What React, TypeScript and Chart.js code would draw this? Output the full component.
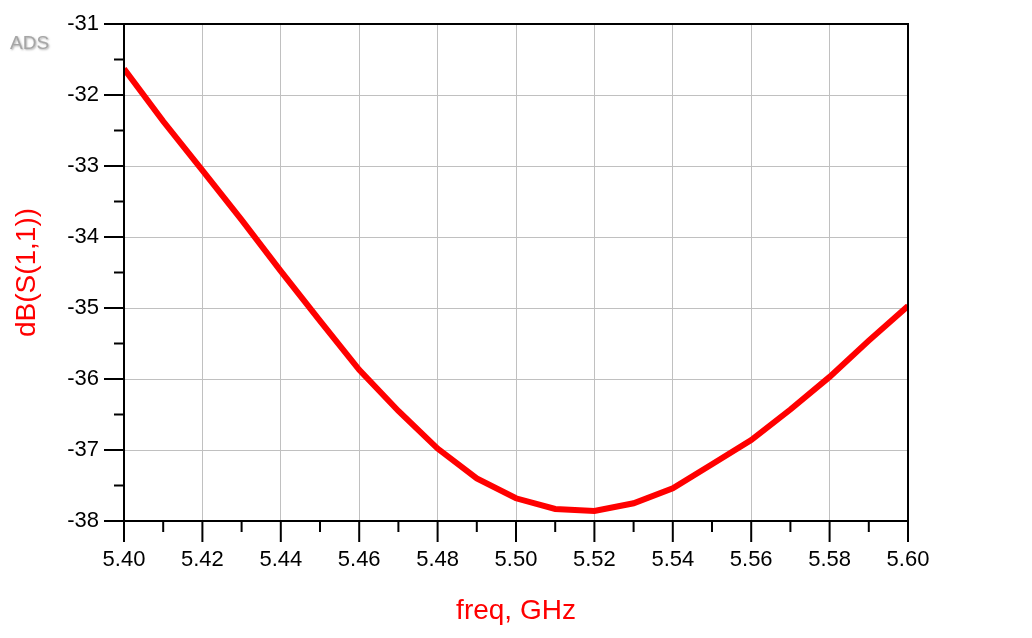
import React, { useEffect, useRef } from "react";
import { Chart, registerables } from "chart.js";

Chart.register(...registerables);

const freqGHz: number[] = [
  5.4, 5.41, 5.42, 5.43, 5.44, 5.45, 5.46, 5.47, 5.48, 5.49, 5.5,
  5.51, 5.52, 5.53, 5.54, 5.55, 5.56, 5.57, 5.58, 5.59, 5.6,
];
const dbS11: number[] = [
  -31.63, -32.37, -33.06, -33.76, -34.48, -35.18, -35.87, -36.45, -36.98, -37.4, -37.68,
  -37.83, -37.86, -37.75, -37.54, -37.2, -36.86, -36.43, -35.97, -35.46, -34.97,
];
const xMin = 5.4;
const xMax = 5.6;
const yMin = -38;
const yMax = -31;
const xTitle = "freq, GHz";
const yTitle = "dB(S(1,1))";
const badge = "ADS";

const FONT = "'Liberation Sans', Arial, sans-serif";

const isMajorX = (v: number) => Math.round(v * 100) % 2 === 0;
const isMajorY = (v: number) => Math.abs(v - Math.round(v)) < 1e-6;

const framePlugin = {
  id: "frameTicks",
  afterDraw(chart: any) {
    const { ctx, chartArea, scales } = chart;
    const { left, right, top, bottom } = chartArea;
    ctx.save();
    ctx.strokeStyle = "#000";
    ctx.lineWidth = 2;
    ctx.beginPath();
    ctx.rect(left, top, right - left, bottom - top);
    ctx.stroke();
    scales.y.ticks.forEach((t: any) => {
      const y = scales.y.getPixelForValue(t.value);
      const len = isMajorY(t.value) ? 20 : 10;
      ctx.beginPath();
      ctx.moveTo(left - len, y);
      ctx.lineTo(left, y);
      ctx.stroke();
    });
    scales.x.ticks.forEach((t: any) => {
      const x = scales.x.getPixelForValue(t.value);
      const len = isMajorX(t.value) ? 21 : 11;
      ctx.beginPath();
      ctx.moveTo(x, bottom);
      ctx.lineTo(x, bottom + len);
      ctx.stroke();
    });
    ctx.font = `19px ${FONT}`;
    ctx.textAlign = "left";
    ctx.textBaseline = "alphabetic";
    ctx.shadowColor = "rgba(120,120,120,0.6)";
    ctx.shadowBlur = 2;
    ctx.shadowOffsetX = 1;
    ctx.shadowOffsetY = 1;
    ctx.fillStyle = "#a6a6a6";
    ctx.fillText(badge, 10, 49);
    ctx.restore();
  },
};

export default function App() {
  const ref = useRef<HTMLCanvasElement | null>(null);
  useEffect(() => {
    if (!ref.current) return;
    const chart = new Chart(ref.current, {
      type: "line",
      data: {
        datasets: [
          {
            data: freqGHz.map((f, i) => ({ x: f, y: dbS11[i] })),
            borderColor: "#ff0000",
            backgroundColor: "#ff0000",
            borderWidth: 6,
            pointRadius: 0,
            tension: 0,
            fill: false,
          },
        ],
      },
      options: {
        animation: false,
        responsive: false,
        layout: { padding: { left: 0, top: 24, right: 124, bottom: 0 } },
        plugins: { legend: { display: false }, tooltip: { enabled: false } },
        scales: {
          x: {
            type: "linear",
            min: xMin,
            max: xMax,
            afterFit: (s: any) => {
              s.height = 117;
              s.paddingLeft = 0;
              s.paddingRight = 0;
            },
            grid: {
              drawTicks: false,
              color: (c: any) => (c.tick && isMajorX(c.tick.value) ? "#c0c0c0" : "rgba(0,0,0,0)"),
              lineWidth: 1,
            },
            border: { display: false },
            ticks: {
              stepSize: 0.01,
              autoSkip: false,
              maxRotation: 0,
              padding: 26,
              color: "#000",
              font: { family: FONT, size: 22 },
              callback: (v: any) => (isMajorX(Number(v)) ? Number(v).toFixed(2) : ""),
            },
            title: {
              display: true,
              text: xTitle,
              color: "#ff0000",
              font: { family: FONT, size: 28 },
              padding: { top: 10, bottom: 10 },
            },
          },
          y: {
            type: "linear",
            min: yMin,
            max: yMax,
            afterFit: (s: any) => {
              s.width = 124;
              s.paddingTop = 0;
              s.paddingBottom = 0;
            },
            grid: {
              drawTicks: false,
              color: (c: any) => (c.tick && isMajorY(c.tick.value) ? "#c0c0c0" : "rgba(0,0,0,0)"),
              lineWidth: 1,
            },
            border: { display: false },
            ticks: {
              stepSize: 0.5,
              autoSkip: false,
              padding: 25,
              color: "#000",
              font: { family: FONT, size: 22 },
              callback: (v: any) => (isMajorY(Number(v)) ? String(Math.round(Number(v))) : ""),
            },
            title: {
              display: true,
              text: yTitle,
              color: "#ff0000",
              font: { family: FONT, size: 28 },
              padding: { top: 10, bottom: 10 },
            },
          },
        },
      },
      plugins: [framePlugin],
    });
    return () => chart.destroy();
  }, []);
  return (
    <div style={{ position: "fixed", left: 0, top: 0, width: 1032, height: 638, background: "#fff" }}>
      <canvas ref={ref} width={1032} height={638} style={{ display: "block", width: 1032, height: 638 }} />
    </div>
  );
}
